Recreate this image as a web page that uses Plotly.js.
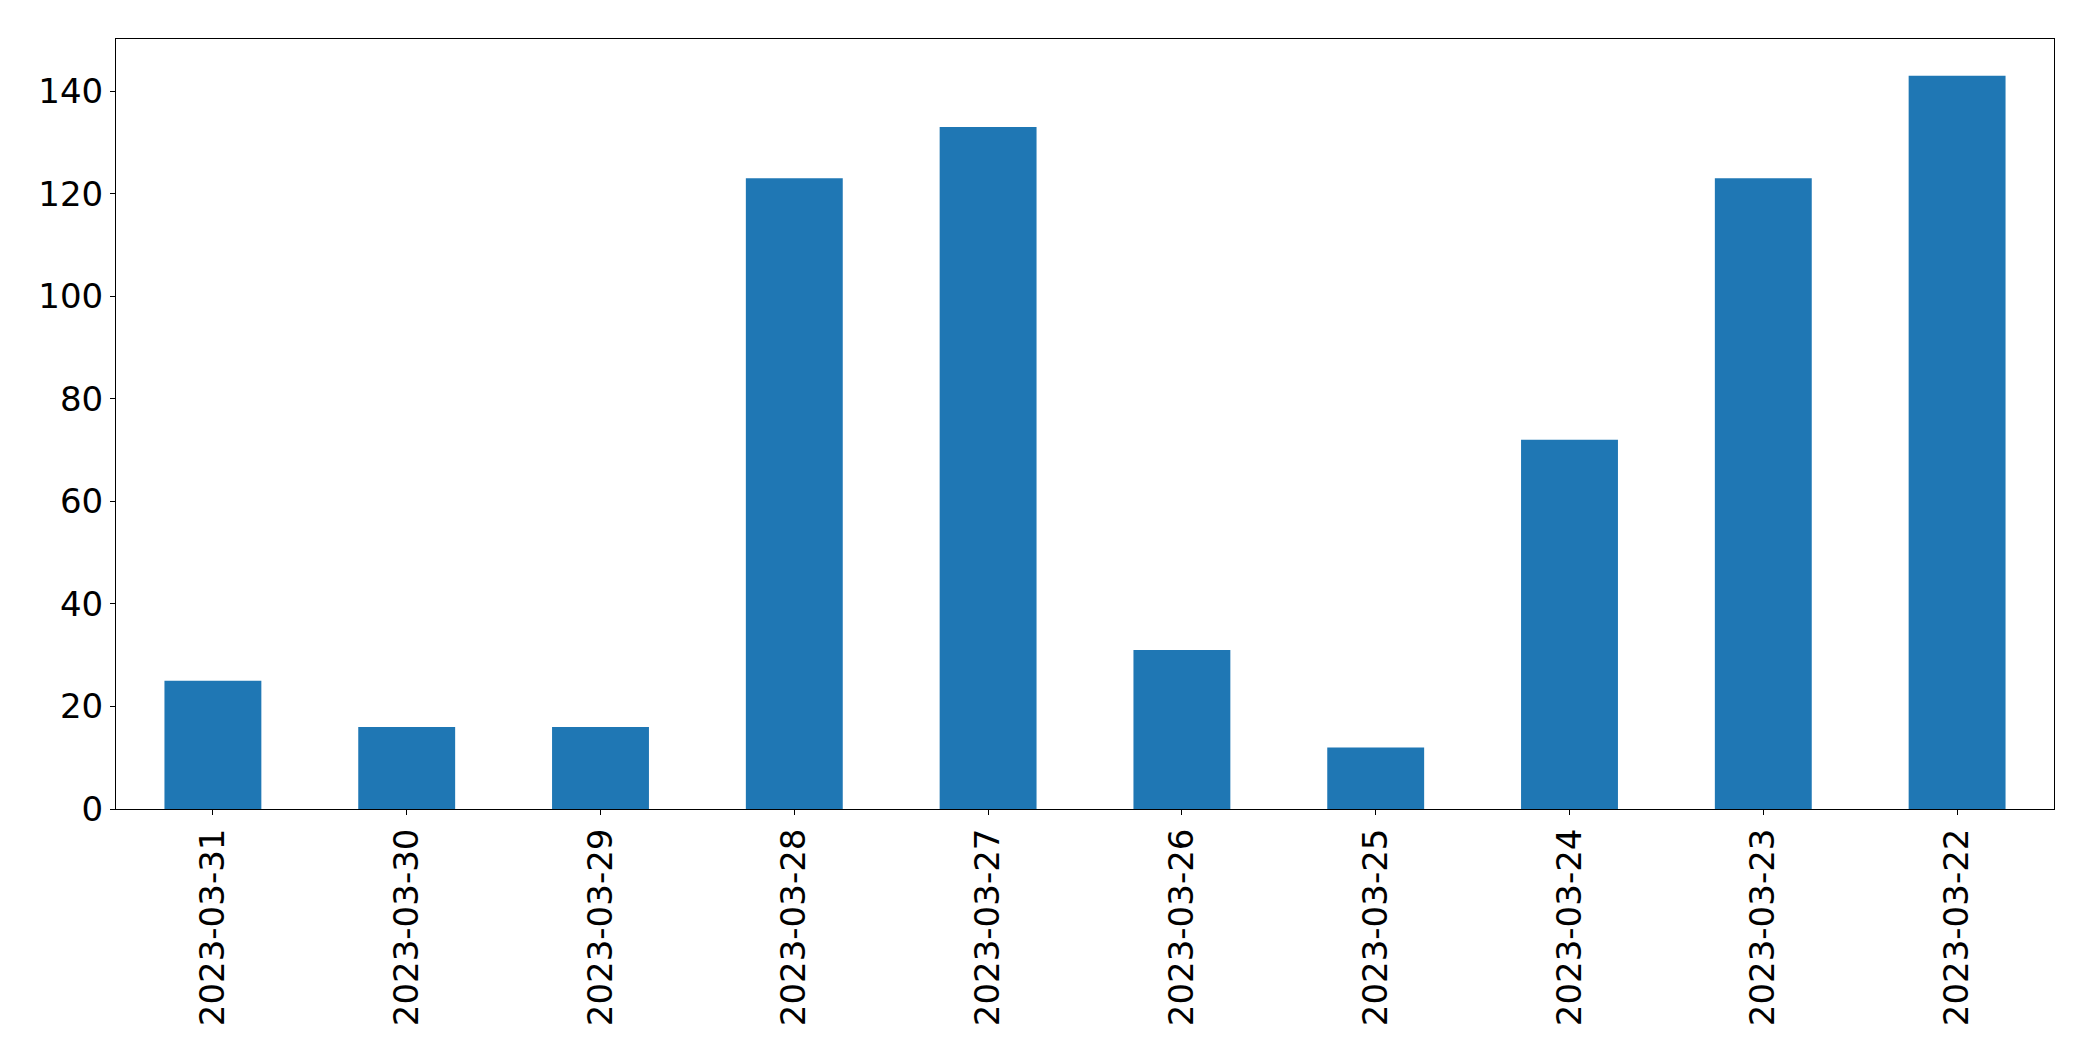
<!DOCTYPE html>
<html>
<head>
<meta charset="utf-8">
<script src="https://cdn.plot.ly/plotly-3.0.1.min.js"></script>
<style>html,body{margin:0;padding:0;background:#fff;}</style>
</head>
<body>
<div id="chart" style="width:2093px;height:1061px;"></div>
<script>
var dates = ["2023-03-31","2023-03-30","2023-03-29","2023-03-28","2023-03-27","2023-03-26","2023-03-25","2023-03-24","2023-03-23","2023-03-22"];
var counts = [25, 16, 16, 123, 133, 31, 12, 72, 123, 143];

var trace = {
  type: 'bar',
  x: dates,
  y: counts,
  marker: {color: '#1f77b4', line: {width: 0}},
  hoverinfo: 'x+y'
};

var layout = {
  width: 2093,
  height: 1061,
  margin: {l: 116, r: 39, t: 39, b: 252, pad: 0},
  paper_bgcolor: '#ffffff',
  plot_bgcolor: '#ffffff',
  bargap: 0.5,
  showlegend: false,
  font: {family: 'DejaVu Sans', size: 34, color: '#000000'},
  xaxis: {
    type: 'category',
    range: [-0.5, 9.5],
    tickangle: -90,
    ticks: 'outside',
    ticklen: 5,
    tickwidth: 1,
    tickcolor: '#000',
    showline: true,
    linecolor: '#000',
    linewidth: 1,
    mirror: true,
    showgrid: false,
    zeroline: false,
    tickfont: {family: 'DejaVu Sans', size: 34, color: '#000'}
  },
  yaxis: {
    range: [0, 150.15],
    dtick: 20,
    tick0: 0,
    ticks: 'outside',
    ticklen: 5,
    tickwidth: 1,
    tickcolor: '#000',
    showline: true,
    linecolor: '#000',
    linewidth: 1,
    mirror: true,
    showgrid: false,
    zeroline: false,
    tickfont: {family: 'DejaVu Sans', size: 34, color: '#000'}
  }
};

Plotly.newPlot('chart', [trace], layout, {displayModeBar: false, staticPlot: true});
</script>
</body>
</html>
